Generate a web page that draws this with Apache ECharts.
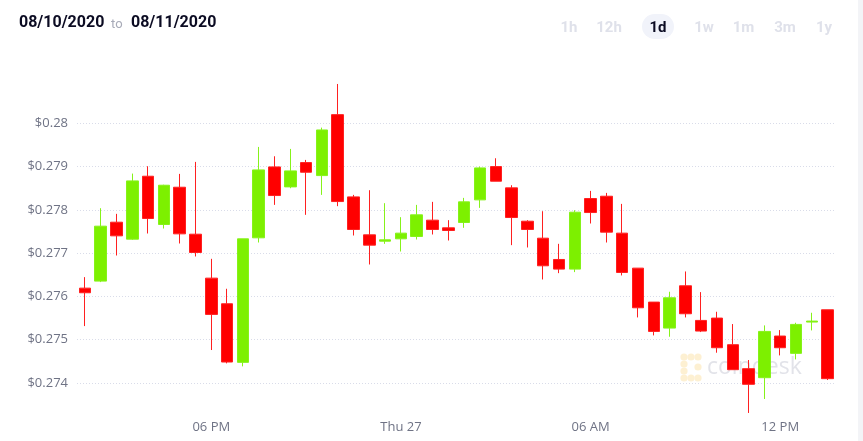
<!DOCTYPE html>
<html>
<head>
<meta charset="utf-8">
<script src="https://cdn.jsdelivr.net/npm/echarts@6/dist/echarts.min.js"></script>
<style>
html,body{margin:0;padding:0;background:#fff;}
#chart{width:863px;height:441px;}
</style>
</head>
<body>
<div id="chart"></div>
<script>
// 30-minute candles, 2:00 PM -> 1:30 PM next day
const categories = [
  "14:00","14:30","15:00","15:30","16:00","16:30","17:00","17:30",
  "18:00","18:30","19:00","19:30","20:00","20:30","21:00","21:30",
  "22:00","22:30","23:00","23:30","00:00","00:30","01:00","01:30",
  "02:00","02:30","03:00","03:30","04:00","04:30","05:00","05:30",
  "06:00","06:30","07:00","07:30","08:00","08:30","09:00","09:30",
  "10:00","10:30","11:00","11:30","12:00","12:30","13:00","13:30"
];
const openV = [
  0.276192,0.276354,0.277715,0.277323,0.278777,0.277662,0.278523,0.277438,
  0.276423,0.275831,0.274477,0.277354,0.278992,0.278531,0.279092,0.278792,
  0.280200,0.278300,0.277423,0.277277,0.277331,0.277385,0.277762,0.277585,
  0.277708,0.278231,0.279000,0.278508,0.277738,0.277346,0.276854,0.276631,
  0.278262,0.278315,0.277462,0.276654,0.275869,0.275269,0.276246,0.275446,
  0.275500,0.274885,0.274331,0.274123,0.275085,0.274685,0.275408,0.275692
];
const closeV = [
  0.276085,0.277623,0.277400,0.278669,0.277800,0.278569,0.277446,0.277015,
  0.275585,0.274485,0.277331,0.278923,0.278331,0.278900,0.278869,0.279846,
  0.278192,0.277546,0.277185,0.277308,0.277462,0.277885,0.277546,0.277523,
  0.278185,0.278969,0.278662,0.277823,0.277546,0.276708,0.276631,0.277946,
  0.277938,0.277485,0.276554,0.275738,0.275192,0.275969,0.275600,0.275200,
  0.274815,0.274308,0.273970,0.275192,0.274815,0.275354,0.275431,0.274100
];
const lowV = [
  0.275315,0.276331,0.276946,0.277308,0.277454,0.277569,0.277223,0.276923,
  0.274762,0.274454,0.274385,0.277246,0.278115,0.278500,0.277885,0.278346,
  0.278085,0.277408,0.276738,0.277215,0.277038,0.277315,0.277431,0.277292,
  0.277585,0.278046,0.278662,0.277185,0.277131,0.276392,0.276538,0.276562,
  0.277685,0.277246,0.276485,0.275515,0.275100,0.275069,0.275515,0.275177,
  0.274700,0.274308,0.273308,0.273631,0.274638,0.274546,0.275215,0.274069
];
const highV = [
  0.276446,0.278038,0.277908,0.278838,0.279008,0.278580,0.278831,0.279108,
  0.276869,0.276177,0.277331,0.279454,0.279238,0.279408,0.279154,0.279900,
  0.280908,0.278346,0.278454,0.278154,0.277831,0.278115,0.278185,0.277762,
  0.278277,0.279000,0.279192,0.278569,0.277762,0.277969,0.277215,0.277992,
  0.278438,0.278392,0.278138,0.276654,0.275869,0.276108,0.276577,0.276100,
  0.275646,0.275362,0.274531,0.275331,0.275223,0.275392,0.275623,0.275692
];
const xTickAt = ["18:00","00:00","06:00","12:00"];
const xTickText = ["06 PM","Thu 27","06 AM","12 PM"];
const rangeButtons = ["1h","12h","1d","1w","1m","3m","1y"];
const activeRange = "1d";
const dateFrom = "08/10/2020";
const dateTo = "08/11/2020";

const candleData = openV.map((o, i) => [o, closeV[i], lowV[i], highV[i]]);

const btnX = [569, 609, 658, 704, 743.5, 785, 824];
const headerEls = [
  {type:'text', x:19, y:23, style:{text:dateFrom, fill:'#0b0b22', font:'bold 16px Roboto', textAlign:'left', textVerticalAlign:'middle', align:'left', verticalAlign:'middle'}},
  {type:'text', x:111, y:25, style:{text:'to', fill:'#a8abb8', font:'13px Roboto', textAlign:'left', textVerticalAlign:'middle', align:'left', verticalAlign:'middle'}},
  {type:'text', x:131, y:23, style:{text:dateTo, fill:'#0b0b22', font:'bold 16px Roboto', textAlign:'left', textVerticalAlign:'middle', align:'left', verticalAlign:'middle'}},
  {type:'rect', shape:{x:642, y:14, width:32, height:25, r:12.5}, style:{fill:'#f1f3fa'}},
  {type:'rect', shape:{x:858, y:0, width:5, height:441}, style:{fill:'#f3f4f7'}}
];
rangeButtons.forEach((b, i) => {
  headerEls.push({type:'text', x:btnX[i], y:28, style:{text:b, fill: b === activeRange ? '#0b0b22' : '#dfe1ea', font:'bold 15px Roboto', textAlign:'center', textVerticalAlign:'middle', align:'center', verticalAlign:'middle'}});
});
// watermark
const wmDots = [[684,357],[691,357],[698,357],[684,364],[684,371],[684,378],[691,378],[698,378],[698,367]];
wmDots.forEach(d => headerEls.push({type:'circle', z:0, shape:{cx:d[0], cy:d[1], r:3.6}, style:{fill:'#fdf0d2'}}));
headerEls.push({type:'text', z:0, x:707, y:367, style:{text:'coindesk', fill:'#e2e3e9', font:'23px "Open Sans"', textAlign:'left', textVerticalAlign:'middle', align:'left', verticalAlign:'middle'}});

const chart = echarts.init(document.getElementById('chart'), null, {renderer:'canvas'});
chart.setOption({
  backgroundColor:'#ffffff',
  animation:false,
  graphic: headerEls,
  grid:{left:77, right:27.5, top:80, bottom:14.7},
  xAxis:{
    type:'category',
    data:categories,
    boundaryGap:true,
    axisLine:{show:false},
    axisTick:{show:false},
    splitLine:{show:false},
    axisLabel:{
      interval:(idx, val) => xTickAt.indexOf(val) >= 0,
      formatter:(val) => { const k = xTickAt.indexOf(val); return k >= 0 ? xTickText[k] : ''; },
      color:'#6f7385', fontSize:13, fontFamily:'"Open Sans"', margin:-6
    }
  },
  yAxis:{
    type:'value',
    min:0.273, max:0.281, interval:0.001,
    axisLine:{show:false},
    axisTick:{show:false},
    axisLabel:{
      color:'#6f7385', fontSize:13, fontFamily:'"Open Sans"', margin:9,
      showMinLabel:false, showMaxLabel:false,
      formatter:(v) => '$' + (+v.toFixed(3))
    },
    splitLine:{show:true, showMinLine:false, showMaxLine:false, lineStyle:{color:'#d9dce9', type:[1,2], width:1}}
  },
  series:[{
    type:'candlestick',
    data:candleData,
    barWidth:12,
    z:3,
    itemStyle:{
      color:'#7df000', color0:'#ff0000',
      borderColor:'#86f21a', borderColor0:'#ff2020', borderWidth:1
    }
  }]
});
</script>
</body>
</html>
